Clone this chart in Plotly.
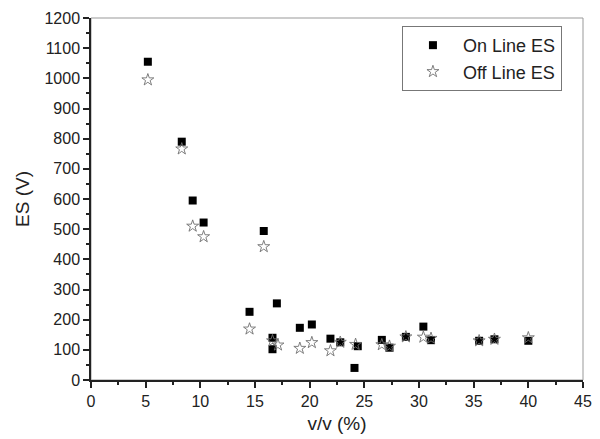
import plotly.graph_objects as go

on_x = [5.2, 8.3, 9.3, 10.3, 14.5, 15.8, 16.6, 16.6, 17.0, 19.1, 20.2, 21.9, 22.8, 24.1, 24.4, 26.6, 27.3, 28.8, 30.4, 31.1, 35.5, 36.9, 40.0]
on_y = [1055, 790, 595, 522, 226, 494, 140, 102, 254, 173, 184, 137, 125, 40, 112, 133, 107, 143, 177, 132, 130, 135, 130]

off_x = [5.2, 8.3, 9.3, 10.3, 14.5, 15.8, 16.6, 17.1, 19.1, 20.2, 21.9, 22.8, 24.2, 26.6, 27.3, 28.8, 30.4, 31.1, 35.5, 36.9, 40.0]
off_y = [995, 766, 510, 475, 169, 442, 130, 116, 105, 124, 97, 125, 118, 117, 112, 143, 142, 138, 130, 135, 140]

fig = go.Figure()
fig.add_trace(go.Scatter(x=on_x, y=on_y, mode="markers", name="On Line ES",
                         marker=dict(symbol="square", size=8, color="black",
                                     line=dict(width=0))))
fig.add_trace(go.Scatter(x=off_x, y=off_y, mode="markers", name="Off Line ES",
                         marker=dict(symbol="star-open", size=9, color="#707070",
                                     line=dict(width=0.9))))

fig.add_shape(type="rect", xref="paper", yref="paper", x0=0, y0=0, x1=1, y1=1,
              line=dict(color="#999999", width=1), layer="below")

fig.update_layout(
    width=600, height=439,
    margin=dict(l=91, r=17, t=18, b=59),
    plot_bgcolor="white", paper_bgcolor="white",
    font=dict(family="Liberation Sans, Arial, sans-serif", size=16, color="#222222"),
    showlegend=True,
    legend=dict(x=0.632, y=0.978, xanchor="left", yanchor="top",
                bordercolor="#777777", borderwidth=1, bgcolor="white",
                font=dict(size=18), itemwidth=50, tracegroupgap=0),
    xaxis=dict(range=[0, 45], tickmode="linear", tick0=0, dtick=5,
               ticks="outside", ticklen=6, tickwidth=1.5, tickcolor="#222",
               showline=True, linecolor="#222", linewidth=1.5,
               showgrid=False, zeroline=False, automargin=False,
               tickfont=dict(size=16),
               minor=dict(ticks="outside", dtick=2.5, ticklen=3, tickcolor="#222", showgrid=False),
               title=dict(text="v/v (%)", font=dict(size=19), standoff=8)),
    yaxis=dict(range=[0, 1200], tickmode="linear", tick0=0, dtick=100,
               ticks="outside", ticklen=6, tickwidth=1.5, tickcolor="#222",
               showline=True, linecolor="#222", linewidth=1.5,
               showgrid=False, zeroline=False, automargin=False,
               tickfont=dict(size=16),
               minor=dict(ticks="outside", dtick=50, ticklen=3, tickcolor="#222", showgrid=False),
               title=dict(text="ES (V)", font=dict(size=19), standoff=10)),
)

fig.write_html("out.html")
